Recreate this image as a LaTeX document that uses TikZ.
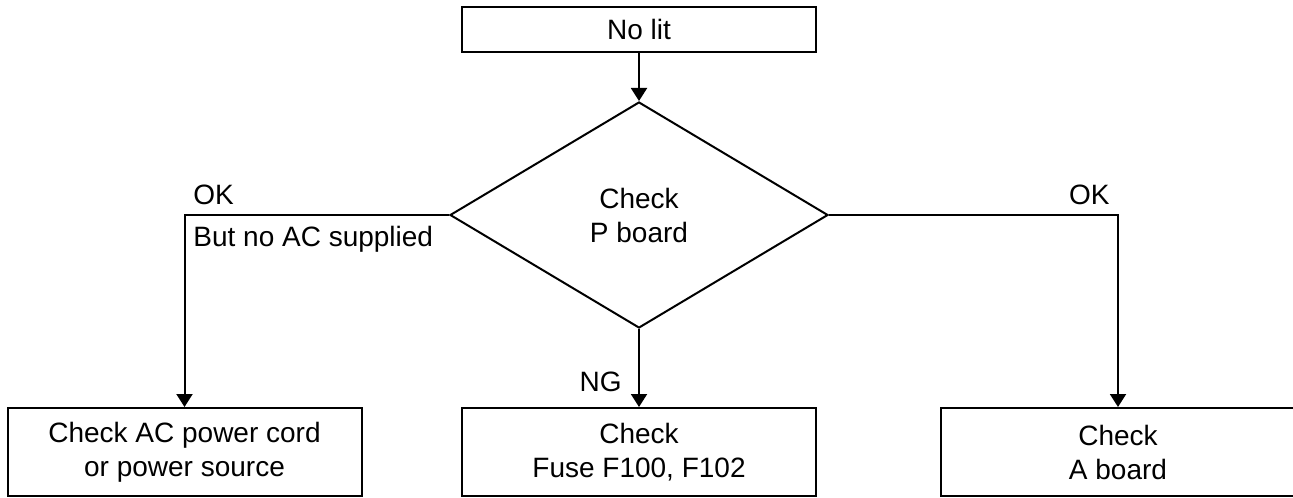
\documentclass[tikz,border=0pt]{standalone}
\usepackage{fontspec}
\setmainfont{Liberation Sans}
\usetikzlibrary{arrows.meta,shapes.geometric}

\begin{document}
\begin{tikzpicture}[x=0.5pt,y=-0.5pt,
  every node/.style={font=\fontsize{14pt}{17pt}\selectfont},
  box/.style={draw,line width=1pt,minimum width=177pt,minimum height=44pt,inner sep=0pt,align=center},
  flow/.style={line width=1pt,-{Triangle[width=8pt,length=6.5pt]}},
  lbl/.style={inner sep=0pt}]
  \useasboundingbox (0,0) rectangle (1293,497);

  % Start and decision
  \node[box,minimum height=22.5pt] (nolit) at (639,29.5) {No lit};
  \node[draw,diamond,line width=1pt,minimum width=189pt,minimum height=113pt,inner sep=0pt,align=center] (check) at (639,215) {Check\\P board};

  % Results
  \node[box] (cord) at (184.5,452) {Check AC power cord\\or power source};
  \node[box] (fuse) at (639,452) {Check\\Fuse F100, F102};
  \node[box] (aboard) at (1118,452) {Check\\A board};

  % Connectors
  \draw[flow] (nolit) -- (check);
  \draw[flow] (check.west) -| (cord.north);
  \draw[flow] (check.east) -| (aboard.north);
  \draw[flow] (check) -- (fuse);

  % Labels
  \node[lbl,anchor=base west] (okleft) at (193,205) {OK};
  \node[lbl,anchor=base west] (noac) at (193,246) {But no AC supplied};
  \node[lbl,anchor=base east] (okright) at (1110,205) {OK};
  \node[lbl,anchor=base east] (ng) at (622,391) {NG};
\end{tikzpicture}
\end{document}
